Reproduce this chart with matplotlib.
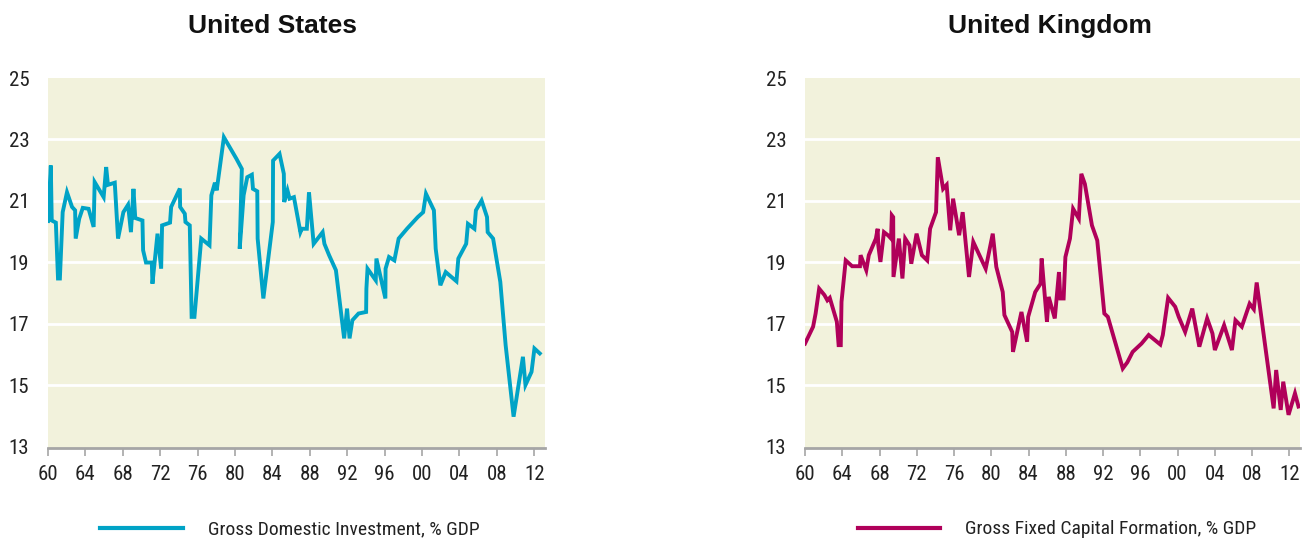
import matplotlib
matplotlib.use("Agg")
import matplotlib.pyplot as plt
from matplotlib.lines import Line2D

# US gross domestic investment, % GDP
us_years = [1960.0, 1960.3, 1960.4, 1960.84, 1961.07, 1961.27, 1961.57, 1962.03, 1962.57, 1962.9,
            1962.96, 1963.34, 1963.72, 1964.34, 1964.88, 1964.99, 1965.95, 1966.22, 1966.41, 1967.14,
            1967.49, 1968.06, 1968.56, 1968.87, 1969.14, 1969.33, 1970.1, 1970.17, 1970.48, 1971.1,
            1971.17, 1971.71, 1972.1, 1972.2, 1973.05, 1973.17, 1974.1, 1974.13, 1974.63, 1974.7,
            1975.16, 1975.36, 1975.66, 1976.39, 1977.27, 1977.47, 1977.85, 1978.04, 1978.81, 1980.15,
            1980.73, 1980.5, 1980.92, 1981.31, 1981.8, 1981.92, 1982.38, 1982.42, 1983.03, 1984.04,
            1984.07, 1984.76, 1985.22, 1985.26, 1985.61, 1985.84, 1986.3, 1986.99, 1987.14, 1987.68,
            1987.91, 1988.41, 1989.37, 1989.56, 1990.06, 1990.79, 1991.67, 1991.98, 1992.25, 1992.55,
            1993.21, 1994.02, 1994.05, 1994.17, 1995.05, 1995.12, 1996.08, 1996.1, 1996.47, 1997.04,
            1997.5, 1998.39, 1999.54, 2000.12, 2000.42, 2001.27, 2001.46, 2001.96, 2002.53, 2003.68,
            2003.88, 2004.72, 2004.91, 2005.6, 2005.76, 2006.37, 2006.95, 2007.02, 2007.6, 2008.37,
            2008.94, 2009.79, 2010.1, 2010.79, 2011.06, 2011.71, 2012.02, 2012.59]
us_vals = [20.34, 22.15, 20.36, 20.29, 18.47, 18.47, 20.63, 21.28, 20.8, 20.69,
           19.77, 20.42, 20.77, 20.74, 20.15, 21.61, 21.12, 22.1, 21.52, 21.59,
           19.77, 20.63, 20.87, 19.98, 21.39, 20.44, 20.36, 19.39, 18.99, 18.99,
           18.3, 19.93, 18.79, 20.2, 20.29, 20.8, 21.4, 20.8, 20.58, 20.31,
           20.2, 17.22, 17.22, 19.77, 19.55, 21.18, 21.59, 21.34, 23.07, 22.37,
           22.04, 19.44, 21.18, 21.77, 21.85, 21.39, 21.31, 19.77, 17.82, 20.31,
           22.31, 22.53, 21.88, 20.96, 21.34, 21.07, 21.12, 19.98, 20.09, 20.09,
           21.28, 19.6, 19.98, 19.6, 19.23, 18.74, 16.52, 17.49, 16.52, 17.11,
           17.33, 17.38, 18.14, 18.79, 18.41, 19.12, 17.82, 18.79, 19.17, 19.06,
           19.77, 20.09, 20.47, 20.63, 21.23, 20.69, 19.44, 18.25, 18.68, 18.38,
           19.12, 19.6, 20.25, 20.09, 20.69, 21.01, 20.47, 19.98, 19.77, 18.36,
           16.3, 13.97, 14.57, 15.92, 15.0, 15.43, 16.19, 16.03]

# UK gross fixed capital formation, % GDP
uk_years = [1960.0, 1960.87, 1961.14, 1961.52, 1962.09, 1962.4, 1962.66, 1963.42, 1963.61, 1963.84,
            1963.92, 1964.37, 1965.06, 1965.9, 1965.97, 1966.58, 1966.85, 1967.61, 1967.8, 1967.87,
            1968.1, 1968.48, 1968.94, 1969.24, 1969.32, 1969.47, 1969.5, 1970.08, 1970.46, 1970.76,
            1971.22, 1971.41, 1971.98, 1972.55, 1973.12, 1973.43, 1974.07, 1974.26, 1974.83, 1975.21,
            1975.59, 1975.9, 1976.55, 1976.93, 1977.61, 1978.07, 1979.4, 1980.16, 1980.54, 1981.23,
            1981.41, 1982.25, 1982.33, 1983.24, 1983.85, 1983.96, 1984.72, 1985.29, 1985.41, 1985.98,
            1986.17, 1986.82, 1987.27, 1987.42, 1987.77, 1987.96, 1988.45, 1988.79, 1989.4, 1989.67,
            1990.05, 1990.81, 1991.38, 1992.14, 1992.52, 1994.12, 1994.61, 1995.18, 1996.13, 1996.9,
            1998.15, 1998.42, 1998.99, 1999.75, 2000.13, 2000.82, 2001.58, 2002.34, 2003.18, 2003.75,
            2004.01, 2005.0, 2005.84, 2006.22, 2006.9, 2007.74, 2008.19, 2008.5, 2009.45, 2010.32,
            2010.59, 2011.08, 2011.35, 2011.92, 2012.61, 2012.99]
uk_vals = [16.35, 16.9, 17.33, 18.14, 17.93, 17.76, 17.84, 17.06, 16.3, 16.3,
           17.71, 19.06, 18.87, 18.87, 19.23, 18.74, 19.23, 19.77, 20.09, 19.55,
           19.01, 19.98, 19.87, 19.77, 20.53, 20.47, 18.52, 19.77, 18.47, 19.77,
           19.55, 18.95, 19.93, 19.23, 19.06, 20.09, 20.63, 22.42, 21.39, 21.52,
           20.04, 21.07, 19.88, 20.63, 18.52, 19.66, 18.79, 19.93, 18.85, 18.03,
           17.28, 16.73, 16.08, 17.38, 16.41, 17.22, 18.03, 18.3, 19.12, 17.06,
           17.87, 17.17, 18.68, 17.82, 17.82, 19.17, 19.77, 20.74, 20.42, 21.88,
           21.55, 20.2, 19.71, 17.33, 17.22, 15.54, 15.74, 16.08, 16.35, 16.63,
           16.32, 16.63, 17.84, 17.55, 17.22, 16.73, 17.49, 16.25, 17.17, 16.68,
           16.14, 16.95, 16.14, 17.11, 16.9, 17.65, 17.47, 18.34, 16.19, 14.24,
           15.49, 14.19, 15.11, 14.03, 14.73, 14.3]

x_ticks = [1960, 1964, 1968, 1972, 1976, 1980, 1984, 1988, 1992, 1996, 2000, 2004, 2008, 2012]
x_labels = ['60', '64', '68', '72', '76', '80', '84', '88', '92', '96', '00', '04', '08', '12']
y_ticks = [13, 15, 17, 19, 21, 23, 25]

narrow = ['Roboto Condensed', 'Liberation Sans', 'DejaVu Sans']
bold = ['Liberation Sans', 'DejaVu Sans']

fig = plt.figure(figsize=(13.04, 5.42), dpi=100)
ax1 = fig.add_axes([48/1304, 1-448/542, 497/1304, 370/542])
ax2 = fig.add_axes([805/1304, 1-448/542, 495/1304, 370/542])

def style(ax):
    ax.set_facecolor('#f2f2dc')
    ax.set_xlim(1960, 2013.15)
    ax.set_ylim(12.95, 25)
    for y in y_ticks[1:-1]:
        ax.axhline(y, color='white', lw=2.0, zorder=1)
    for s in ['top', 'right', 'left']:
        ax.spines[s].set_visible(False)
    ax.spines['bottom'].set_color('#a6a6a6')
    ax.spines['bottom'].set_linewidth(2.0)
    ax.set_xticks(x_ticks)
    ax.set_xticklabels(x_labels, family=narrow, fontsize=15, color='#222222')
    ax.set_yticks(y_ticks)
    ax.set_yticklabels([str(v) for v in y_ticks], family=narrow, fontsize=15, color='#222222')
    ax.tick_params(axis='x', direction='out', length=6, width=1.2, color='#a6a6a6', pad=6)
    ax.tick_params(axis='y', length=0, pad=13.5)

style(ax1)
style(ax2)

ax1.plot(us_years, us_vals, color='#00a3c6', lw=2.8, solid_joinstyle='miter', zorder=3)
ax2.plot(uk_years, uk_vals, color='#b0005a', lw=2.8, solid_joinstyle='miter', zorder=3)

fig.text(273/1304, 1-26/542, 'United States', ha='center', va='center',
         family=bold, fontsize=19, fontweight='bold', color='#111111')
fig.text(1050/1304, 1-26/542, 'United Kingdom', ha='center', va='center',
         family=bold, fontsize=19, fontweight='bold', color='#111111')

# legends below each panel
fig.add_artist(Line2D([100/1304, 183/1304], [1-528/542, 1-528/542], color='#00a3c6', lw=3))
fig.text(208/1304, 1-529/542, 'Gross Domestic Investment, % GDP', ha='left', va='center',
         family=narrow, fontsize=14, color='#222222')
fig.add_artist(Line2D([858/1304, 940/1304], [1-528/542, 1-528/542], color='#b0005a', lw=3))
fig.text(965/1304, 1-529/542, 'Gross Fixed Capital Formation, % GDP', ha='left', va='center',
         family=narrow, fontsize=14, color='#222222')

fig.savefig('out.png', dpi=100, facecolor='white')
